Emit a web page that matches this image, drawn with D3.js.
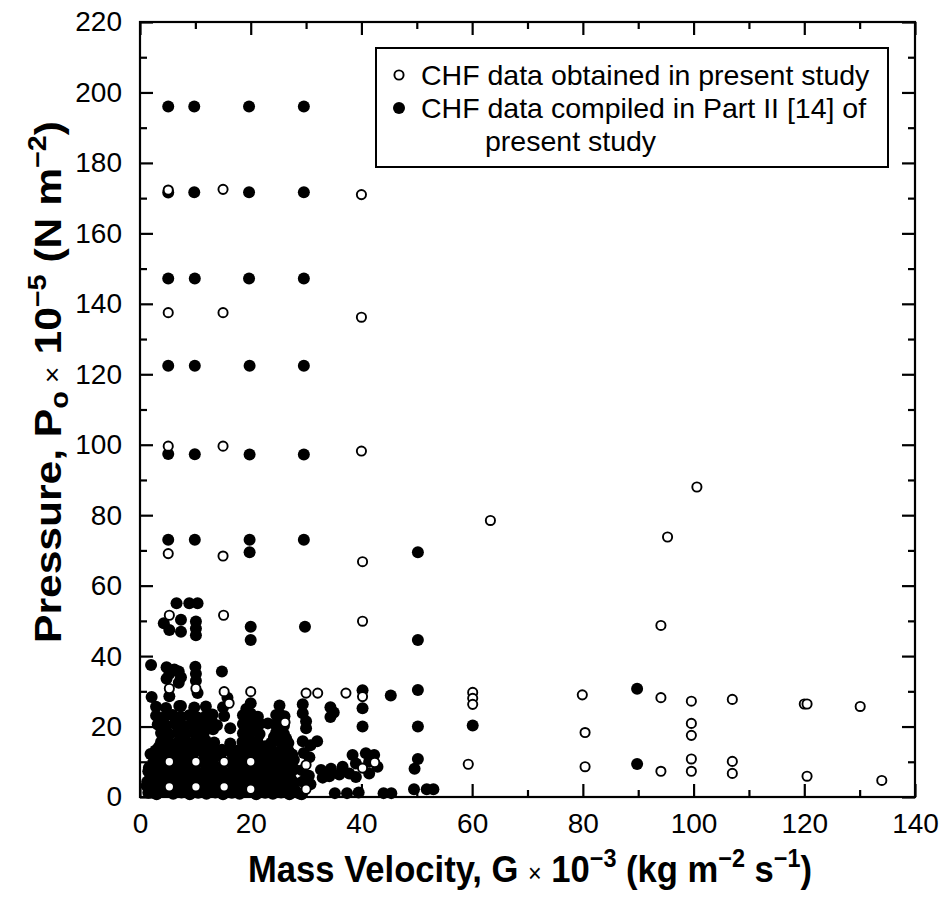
<!DOCTYPE html>
<html>
<head>
<meta charset="utf-8">
<script src="https://cdn.jsdelivr.net/npm/d3@7"></script>
<style>
  html, body { margin: 0; padding: 0; background: #fff; }
  svg { display: block; font-family: "Liberation Sans", Arial, Helvetica, sans-serif; }
</style>
</head>
<body>
<svg id="chart" width="939" height="900"></svg>
<script>
// ---- Data: [G x 10^-3 (kg m^-2 s^-1), P x 10^-5 (N m^-2)] ----
const xTicks = [0, 20, 40, 60, 80, 100, 120, 140];
const yTicks = [0, 20, 40, 60, 80, 100, 120, 140, 160, 180, 200, 220];
const xMinorTicks = [10, 30, 50, 70, 90, 110, 130];
const yMinorTicks = [10, 30, 50, 70, 90, 110, 130, 150, 170, 190, 210];

const legendLabels = ["CHF data obtained in present study", "CHF data compiled in Part II [14] of", "present study"];

// CHF data obtained in present study (open circles)
const presentStudy = [
  [5.1,172.3],[15,172.5],[40,171],
  [5.1,137.5],[15,137.5],[40,136.2],
  [5.1,99.6],[15,99.6],[40,98.2],
  [5.1,69.1],[15,68.4],[40.2,66.8],
  [5.3,51.6],[15.1,51.6],[40.2,49.9],
  [63.3,78.5],[95.3,73.8],[100.6,88],[94.1,48.7],
  [60.1,29.7],[60.1,28],[60.1,26.3],[79.9,29],[94.1,28.2],[99.6,27.2],[107,27.7],
  [120,26.4],[120.5,26.4],[130.1,25.7],
  [80.4,18.3],[99.6,20.9],[99.6,17.5],
  [59.3,9.3],[80.4,8.6],[94.1,7.3],[99.6,10.8],[99.6,7.3],[107,10.1],[107,6.7],[120.5,5.9],[134,4.7],
  [5.3,30.8],[10.1,30.8],[15.2,29.9],[16.1,26.6],[20,29.9],[26.2,21.2],
  [30,29.5],[32.1,29.5],[37.2,29.5],[40.2,28.5],[42.4,9.8],[40.2,8.2],
  [5.3,10],[10.1,10],[15.2,10],[20,10],[30,9.1],
  [5.3,2.9],[10.1,2.9],[15.2,2.9],[20,2.2],[30,2.2]
];

// CHF data compiled in Part II [14] (filled circles) - high pressure rows
const compiledHighP = [
  [5.1,196],[9.8,196],[19.7,196],[29.6,196],
  [5.1,171.6],[9.8,171.7],[19.7,171.7],[29.6,171.7],
  [5.1,147.2],[9.9,147.2],[19.7,147.2],[29.6,147.2],
  [5.1,122.4],[9.9,122.4],[19.8,122.4],[29.6,122.4],
  [5.1,97.4],[9.9,97.3],[19.8,97.2],[29.6,97.2],
  [5.1,73],[9.9,73],[19.8,73],[29.6,73],
  [19.8,69.5],[50.2,69.5]
];

// compiled - medium pressure / scattered
const compiledMidP = [
  [6.6,55],[8.9,55],[10.4,55],
  [4.3,49.3],[5.3,47.4],[7.4,50.3],[7.4,46.9],[10.1,49.8],[10.1,47.8],[10.1,45.9],
  [20,48.3],[20,44.6],[29.8,48.3],[50.2,44.6],
  [2,37.5],[4.8,36.8],[5.3,35],[4.8,33.6],[6.2,36.2],[7,35.6],[7.4,34],[7,32.4],
  [10,37],[10.1,35],[10.1,33],[14.8,35.6],
  [2.1,28.4],[5.3,28.6],[7.4,25.8],[10.4,29.5],[15,25.5],[15.8,28.2],
  [20,26.6],[20,23.7],[20,22],[19.2,25],[25.2,26],[25.2,23.5],[25.2,21],[23.1,20.9],
  [29.4,26.3],[29.4,23.8],[30,21.5],[30,19.5],[29.4,15.8],[30.8,14.7],[32,15.8],
  [29.6,12.5],[30.6,11.3],[29.3,7.6],[30.5,6],[29.4,4.4],[30.8,3.6],[29.2,0.8],
  [34.4,25.5],[35,24],[34.4,22.7],
  [40.2,30.3],[40.2,25.2],[45.3,28.8],[50.2,30.4],[40.2,20],[50.2,20],[60.1,20.3],
  [89.8,30.7],[89.8,9.4],
  [50.2,10.8],[49.6,8],[49.5,2.2],[51.8,2.2],[53,2.2],
  [16.3,19.5],[16.3,15.2],[12.9,20],
  [32.7,7.7],[34.5,8],[36.6,8.6],[34.2,5.9],[33,5.5],[36,6.4],
  [38.4,11.9],[40.8,12.4],[42.3,11.9],[39,9.5],[41.4,10],[42.9,8.6],[41.4,6.7],[39,5.7],[37.8,6.7],
  [35.2,1.1],[37.4,1.1],[39.5,1.3],[44,1.1],[45.4,1.1],[28.8,1]
];

// compiled - dense low-pressure, low-mass-velocity cluster
const compiledLowP = [
  [1.5,1.2],[3,0.8],[4.4,1.4],[6,0.9],[7.5,1.3],[9,0.8],[10.5,1.2],[12,0.9],[13.6,1.3],[15,0.8],[16.6,1.2],[18,0.9],[19.5,1.4],[21,0.8],[22.6,1.2],[24,0.9],[25.5,1.3],[27,0.8],
  [1.2,3.2],[2.6,2.8],[4,3.4],[6.7,3.1],[8.2,2.7],[9.6,3.3],[11.3,3],[12.7,3.4],[14,2.6],[16.4,3.2],[17.8,2.8],[18.8,3.5],[21.5,2.9],[23,3.3],[24.6,2.7],[26,3.1],[27.5,3.4],
  [1.8,5.2],[3.3,4.8],[4.9,5.4],[6.3,5],[7.8,5.3],[9.2,4.7],[10.8,5.2],[12.3,4.9],[13.7,5.4],[15.3,4.8],[16.8,5.1],[18.3,5.5],[19.8,4.9],[21.3,5.2],[22.8,4.7],[24.3,5.3],[25.8,5],[27.2,5.4],
  [1.5,7.3],[3,6.8],[4.5,7.2],[6,6.9],[7.4,7.4],[9,7],[10.6,6.8],[12,7.3],[13.5,7],[15,7.4],[16.5,6.9],[18,7.2],[19.6,7.5],[21,6.8],[22.5,7.3],[24,7],[25.6,7.4],[27,6.9],
  [2.2,9.2],[3.7,8.8],[7,9.1],[8.5,8.9],[11.8,9.3],[13.3,8.8],[16.7,9.2],[18.2,8.9],[21.5,9.3],[23,8.8],[24.5,9.1],[26,9.4],[27.4,8.9],
  [2.5,11.2],[4,11.6],[6.6,11.3],[8.4,11],[11.7,11.5],[13.4,11.1],[16.8,11.4],[18.5,11],[21.6,11.5],[23.2,11.1],[24.8,11.6],[26.3,11.2],
  [2.8,13.2],[4.3,12.9],[5.8,13.4],[7.3,13],[8.8,13.5],[10.3,13.1],[11.8,13.3],[13.3,12.8],[14.8,13.4],[16.3,13],[17.8,13.3],[19.3,12.9],[20.8,13.5],[22.3,13.1],[23.8,13.4],[25.3,12.9],[26.8,13.2],
  [3.8,15.6],[5.4,15.3],[7,15.8],[8.3,15.4],[9.8,15.7],[11.4,15.2],[11.9,16],[13.4,15.5],[18.5,15.6],[20,15.3],[21.2,15.8],[23.7,15.4],[25.2,15.7],[26.8,15.3],
  [3.8,18.2],[5.3,17.8],[6.8,18.3],[8.3,17.9],[9.8,18.4],[11.5,18],[18.6,18.1],[20.1,18.5],[21.6,17.9],[24.6,18.3],[26,17.9],
  [3.2,20.6],[4.7,20.2],[6.2,20.8],[7.7,20.4],[9.2,20.7],[10.7,20.3],[12.3,20.8],[13.9,20.4],[18.6,20.7],[20.2,20.3],[21.7,20.8],[24.5,20.5],[26,20.2],
  [2.9,23.1],[4.4,22.7],[5.9,23.3],[7.4,22.8],[8.9,23.2],[10.4,22.6],[11.9,23],[13.1,23.4],[15.2,23],[18.6,23.2],[21.3,22.8],[24.6,23.3],[26.1,22.9],
  [2.9,25.6],[4.7,25.3],[7.1,25.8],[9.8,25.4],[11.9,25.7]
];

// compiled - additional points filling the dense cluster
const compiledLowP2 = [
  [2.2,2],[5.2,1.8],[8.4,2.1],[11.6,1.9],[14.6,2],[17.4,2.2],[22.4,2],[25.6,2.2],[28,2],
  [1.3,4.3],[5.6,4.1],[8.7,4.4],[11.9,4],[14.8,4.2],[17.6,4.3],[20.6,4],[23.7,4.3],[27.8,4.1],
  [2.4,6.1],[5.3,6.2],[8.5,6],[11.4,6.3],[14.5,6.1],[17.3,5.9],[20.4,6.2],[23.4,6],[26.5,6.3],
  [1.6,8.3],[5.7,8.1],[9.9,8.2],[14.4,8.4],[19.7,8.1],[24.8,8.2],[27.9,7.9],
  [3.2,10.3],[7.6,10.4],[12.6,10.2],[17.5,10.5],[22.3,10.3],[25.6,10.2],[27.8,10.6],
  [1.9,12.2],[5.1,12.1],[9.6,12.3],[14.6,12.1],[19.9,12.2],[24.6,12.3],[27.5,12.1],
  [3.4,14.2],[6.3,14.4],[9.3,14.1],[12.5,14.3],[18.9,14.2],[22.6,14.4],[26.1,14.1],
  [4.4,16.9],[7.6,17],[10.8,16.8],[19.5,16.9],[24.2,17],[26.4,16.6],
  [4,19.4],[7.1,19.3],[10.4,19.5],[13.2,19.2],[19.3,19.4],[21,19.1],[25.3,19.5],
  [3.6,21.8],[6.9,21.9],[9.9,21.6],[12.9,21.9],[19.4,21.7],[25.2,22]
];

// ---- Chart ----
const svg = d3.select("#chart");
const x = d3.scaleLinear().domain([0, 140]).range([140, 915]);
const y = d3.scaleLinear().domain([0, 220]).range([797, 22]);

const FS = 28;

// frame
svg.append("rect")
  .attr("x", x(0)).attr("y", y(220))
  .attr("width", x(140) - x(0)).attr("height", y(0) - y(220))
  .attr("fill", "none").attr("stroke", "#000").attr("stroke-width", 2.2);

function styleAxis(g) {
  g.select(".domain").remove();
  g.selectAll(".tick line").attr("stroke", "#000").attr("stroke-width", 2.2);
  g.selectAll(".tick text").attr("fill", "#000").attr("font-size", FS)
    .attr("font-family", "Liberation Sans, Arial, sans-serif");
}

// bottom
svg.append("g").attr("transform", `translate(0,${y(0)})`)
  .call(d3.axisBottom(x).tickValues(xTicks).tickSize(-13).tickPadding(16).tickFormat(d3.format("d")))
  .call(styleAxis);
svg.append("g").attr("transform", `translate(0,${y(0)})`)
  .call(d3.axisBottom(x).tickValues(xMinorTicks).tickSize(-7).tickFormat(""))
  .call(styleAxis);
// top
svg.append("g").attr("transform", `translate(0,${y(220)})`)
  .call(d3.axisTop(x).tickValues(xTicks).tickSize(-13).tickFormat(""))
  .call(styleAxis);
svg.append("g").attr("transform", `translate(0,${y(220)})`)
  .call(d3.axisTop(x).tickValues(xMinorTicks).tickSize(-7).tickFormat(""))
  .call(styleAxis);
// left
svg.append("g").attr("transform", `translate(${x(0)},0)`)
  .call(d3.axisLeft(y).tickValues(yTicks).tickSize(-13).tickPadding(18).tickFormat(d3.format("d")))
  .call(styleAxis);
svg.append("g").attr("transform", `translate(${x(0)},0)`)
  .call(d3.axisLeft(y).tickValues(yMinorTicks).tickSize(-7).tickFormat(""))
  .call(styleAxis);
// right
svg.append("g").attr("transform", `translate(${x(140)},0)`)
  .call(d3.axisRight(y).tickValues(yTicks).tickSize(-13).tickFormat(""))
  .call(styleAxis);
svg.append("g").attr("transform", `translate(${x(140)},0)`)
  .call(d3.axisRight(y).tickValues(yMinorTicks).tickSize(-7).tickFormat(""))
  .call(styleAxis);

// data
const R_FILL = 6, R_OPEN = 4.6, SW_OPEN = 1.9;
const compiled = compiledHighP.concat(compiledMidP, compiledLowP, compiledLowP2);
svg.append("g").selectAll("circle").data(compiled).join("circle")
  .attr("cx", d => x(d[0])).attr("cy", d => y(d[1])).attr("r", R_FILL)
  .attr("fill", "#000");
svg.append("g").selectAll("circle").data(presentStudy).join("circle")
  .attr("cx", d => x(d[0])).attr("cy", d => y(d[1])).attr("r", R_OPEN)
  .attr("fill", "#fff").attr("stroke", "#000").attr("stroke-width", SW_OPEN);

// legend
const lg = svg.append("g");
lg.append("rect").attr("x", 376).attr("y", 48).attr("width", 512).attr("height", 119)
  .attr("fill", "#fff").attr("stroke", "#000").attr("stroke-width", 2);
lg.append("circle").attr("cx", 399).attr("cy", 75).attr("r", R_OPEN)
  .attr("fill", "#fff").attr("stroke", "#000").attr("stroke-width", SW_OPEN);
lg.append("circle").attr("cx", 399).attr("cy", 108).attr("r", R_FILL).attr("fill", "#000");
const LFS = 28.5;
lg.append("text").attr("x", 421).attr("y", 85).attr("font-size", LFS).text(legendLabels[0]);
lg.append("text").attr("x", 421).attr("y", 118).attr("font-size", LFS).text(legendLabels[1]);
lg.append("text").attr("x", 485).attr("y", 151).attr("font-size", LFS).text(legendLabels[2]);

// helper: fit a text element to a target rendered length
function fitText(t, targetLen, c, base, rotate) {
  let s = 1;
  const apply = () => {
    if (rotate) t.attr("transform", `translate(${base},${c + targetLen / 2}) rotate(-90) scale(${s},1)`);
    else t.attr("transform", `translate(${c - targetLen / 2},${base}) scale(${s},1)`);
  };
  for (let i = 0; i < 4; i++) {
    apply();
    const r = t.node().getBoundingClientRect();
    const len = rotate ? r.height : r.width;
    if (len > 0) s *= targetLen / len;
  }
  apply();
  const r = t.node().getBoundingClientRect();
  if (rotate) {
    const mid = r.top + r.height / 2;
    t.attr("transform", `translate(${base},${c + targetLen / 2 + (c - mid)}) rotate(-90) scale(${s},1)`);
  } else {
    const mid = r.left + r.width / 2;
    t.attr("transform", `translate(${c - targetLen / 2 + (c - mid)},${base}) scale(${s},1)`);
  }
}

// x title
const TFS = 37, TSS = 25;
const xt = svg.append("text").attr("x", 0).attr("y", 0)
  .attr("font-weight", "bold").attr("font-size", TFS);
xt.append("tspan").text("Mass Velocity, G ");
xt.append("tspan").attr("font-weight", "normal").attr("font-size", TSS).text("×");
xt.append("tspan").text(" 10");
xt.append("tspan").attr("dy", -15).attr("font-size", TSS).text("−3");
xt.append("tspan").attr("dy", 15).text(" (kg m");
xt.append("tspan").attr("dy", -15).attr("font-size", TSS).text("−2");
xt.append("tspan").attr("dy", 15).text(" s");
xt.append("tspan").attr("dy", -15).attr("font-size", TSS).text("−1");
xt.append("tspan").attr("dy", 15).text(")");
fitText(xt, 564, 530, 882, false);

// y title
const yt = svg.append("text").attr("x", 0).attr("y", 0)
  .attr("font-weight", "bold").attr("font-size", TFS);
yt.append("tspan").text("Pressure,  P");
yt.append("tspan").attr("dy", 7).attr("font-size", TSS).text("o");
yt.append("tspan").attr("dy", -7).attr("font-weight", "normal").attr("font-size", TSS).text(" ×");
yt.append("tspan").text(" 10");
yt.append("tspan").attr("dy", -15).attr("font-size", TSS).text("−5");
yt.append("tspan").attr("dy", 15).text(" (N m");
yt.append("tspan").attr("dy", -15).attr("font-size", TSS).text("−2");
yt.append("tspan").attr("dy", 15).text(")");
fitText(yt, 522, 382, 61, true);
</script>
</body>
</html>
